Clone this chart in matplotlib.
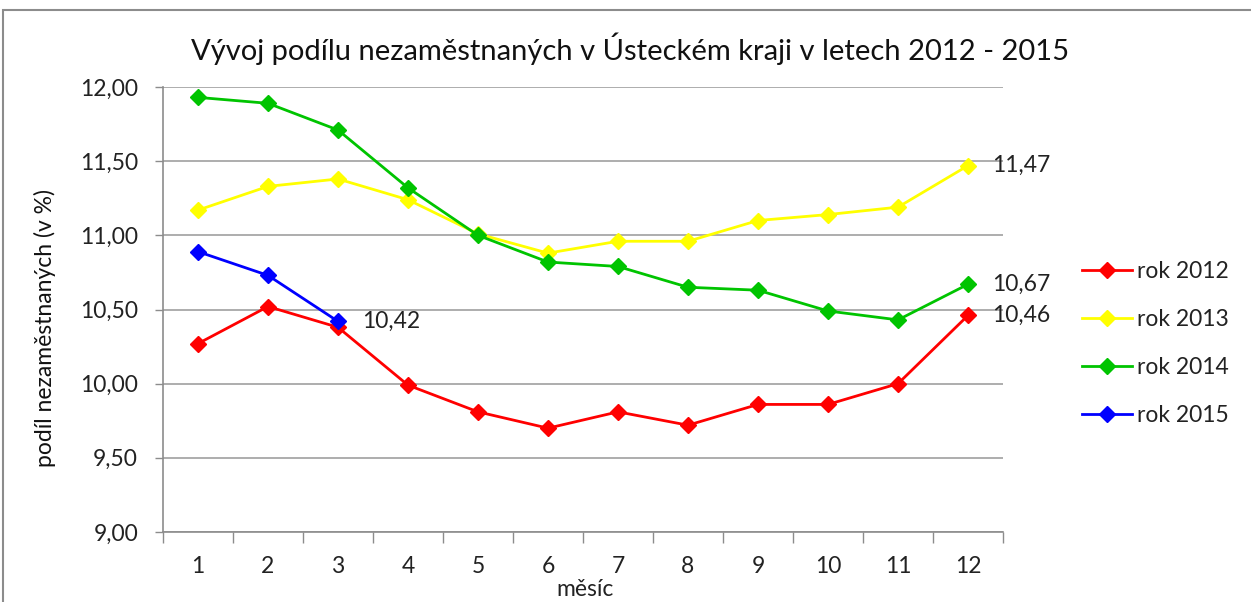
import matplotlib
matplotlib.use("Agg")
import matplotlib.pyplot as plt
from matplotlib.patches import Rectangle
from matplotlib.ticker import FixedLocator, FuncFormatter

plt.rcParams['font.family'] = ['Lato', 'DejaVu Sans']

months = list(range(1, 13))
series_names = ["rok 2012", "rok 2013", "rok 2014", "rok 2015"]
v2012 = [10.27, 10.52, 10.38, 9.99, 9.81, 9.70, 9.81, 9.72, 9.86, 9.86, 10.00, 10.46]
v2013 = [11.17, 11.33, 11.38, 11.24, 11.01, 10.88, 10.96, 10.96, 11.10, 11.14, 11.19, 11.47]
v2014 = [11.93, 11.89, 11.71, 11.32, 11.00, 10.82, 10.79, 10.65, 10.63, 10.49, 10.43, 10.67]
v2015 = [10.89, 10.73, 10.42]
colors = ["#FF0000", "#FFFF00", "#00C400", "#0000FF"]
yticks = [9.0, 9.5, 10.0, 10.5, 11.0, 11.5, 12.0]

title = "Vývoj podílu nezaměstnaných v Ústeckém kraji v letech 2012 - 2015"
ylabel = "podíl nezaměstnaných (v %)"
xlabel = "měsíc"

W, H = 1251, 602
fig = plt.figure(figsize=(W / 100, H / 100), dpi=100)
fig.patch.set_facecolor("white")
# outer chart border
fig.add_artist(Rectangle((3 / W, -0.05), 1.2, 1 - 10 / H + 0.05, transform=fig.transFigure,
                         fill=False, edgecolor="#8c8c8c", linewidth=1.5))

ax = fig.add_axes([163 / W, 1 - 532 / H, (1003 - 163) / W, (532 - 87) / H])

all_vals = [v2012, v2013, v2014, v2015]
for name, vals, c in zip(series_names, all_vals, colors):
    ax.plot(months[:len(vals)], vals, color=c, linewidth=2, marker="D", markersize=8,
            markeredgecolor=c, label=name, zorder=3)

ax.set_xlim(0.5, 12.5)
ax.set_ylim(9.0, 12.0)
ax.yaxis.set_major_locator(FixedLocator(yticks))
ax.yaxis.set_major_formatter(FuncFormatter(lambda v, p: f"{v:.2f}".replace(".", ",")))
ax.set_xticks(months)
ax.set_xticks([m + 0.5 for m in [0] + months], minor=True)
ax.tick_params(axis="x", which="major", length=0, pad=17, labelsize=16.5)
ax.tick_params(axis="x", which="minor", length=8, color="#8c8c8c", width=1, direction="out")
ax.tick_params(axis="y", which="major", length=6, color="#8c8c8c", width=1, direction="out",
               labelsize=16.5, pad=12)
for lab in ax.get_yticklabels() + ax.get_xticklabels():
    lab.set_color("#222222")

ax.grid(axis="y", color="#a0a0a0", linewidth=1.2, zorder=0)
ax.set_axisbelow(True)
for s in ["top", "right"]:
    ax.spines[s].set_visible(False)
for s in ["left", "bottom"]:
    ax.spines[s].set_color("#8c8c8c")
    ax.spines[s].set_linewidth(1.2)

# data labels for last points
for vals in all_vals:
    x = months[len(vals) - 1]
    y = vals[-1]
    ax.annotate(f"{y:.2f}".replace(".", ","), (x, y), xytext=(17, 0), textcoords="offset points",
                va="center", ha="left", fontsize=16.5, color="#222222")

fig.text(630 / W, 1 - 49 / H, title, ha="center", va="center", fontsize=21, color="#111111")
fig.text(45 / W, 1 - 328 / H, ylabel, rotation=90, ha="center", va="center", fontsize=16.5, color="#111111")
fig.text(585 / W, 1 - 590 / H, xlabel, ha="center", va="center", fontsize=16.5, color="#222222")

leg = fig.legend(loc="upper left", bbox_to_anchor=(1082 / W, 1 - 261 / H), frameon=False,
                 borderaxespad=0, borderpad=0,
                 fontsize=16.5, handlelength=2.2, handletextpad=0.2, labelspacing=1.18,
                 labelcolor="#222222")

fig.savefig("out.png", dpi=100)
